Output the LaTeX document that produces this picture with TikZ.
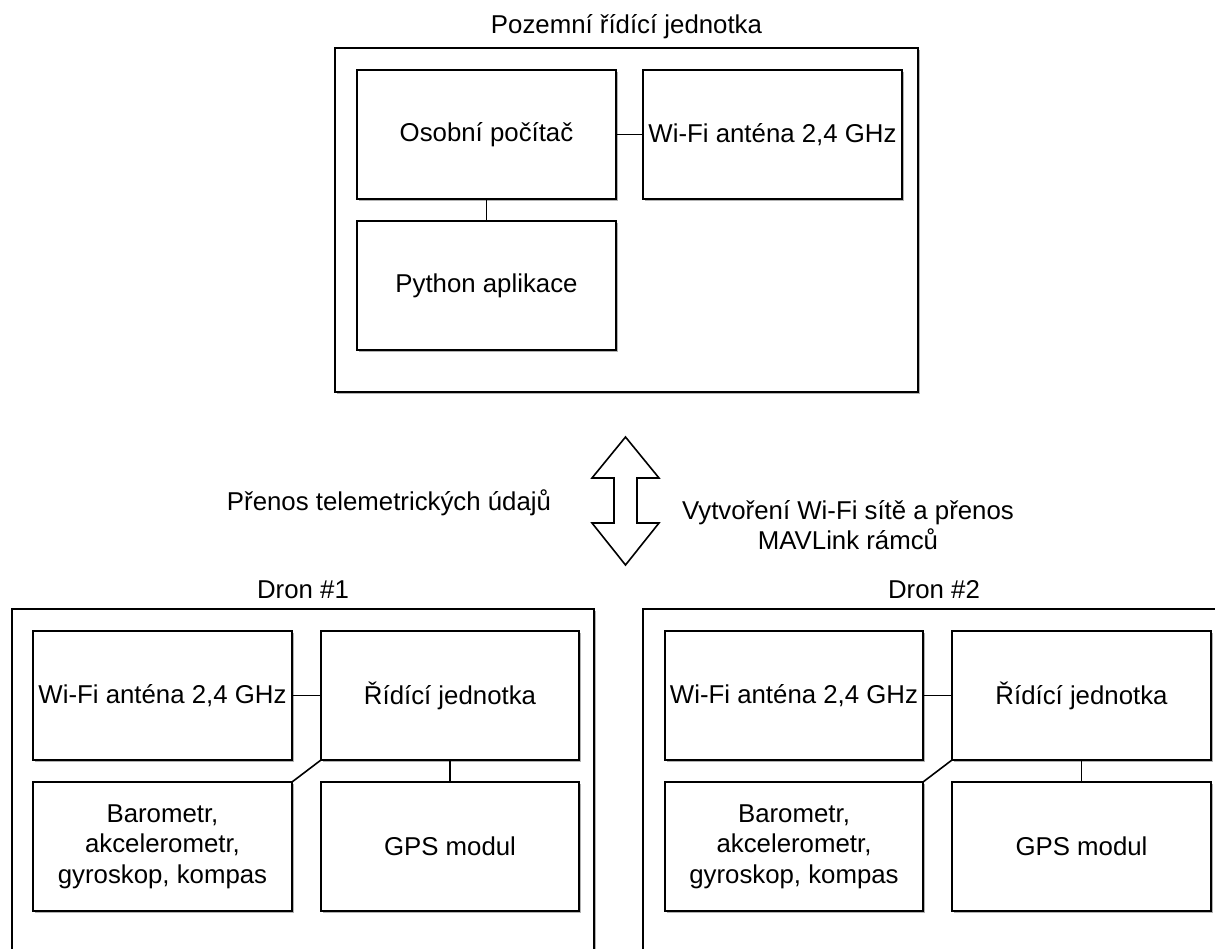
\documentclass[tikz,border=0pt]{standalone}
\usepackage{fontspec}
\setmainfont{Liberation Sans}
\usetikzlibrary{shadows}
\begin{document}
\begin{tikzpicture}[x=1pt,y=-1pt,
  every node/.style={font=\fontsize{25.8}{30.5}\selectfont, inner sep=0pt, outer sep=0pt},
  box/.style={draw, line width=1.6pt, fill=white, align=center,
    drop shadow={shadow xshift=1.6pt, shadow yshift=-1.6pt, opacity=0.3, fill=black}},
  inner/.style={box, minimum width=259pt, minimum height=129pt},
  link/.style={line width=1.6pt}]
\useasboundingbox (0,0) rectangle (1215,949);
\clip (0,0) rectangle (1215,949);
\fill[white] (0,0) rectangle (1215,949);

% ground unit
\node[box, minimum width=583pt, minimum height=344pt] (ground) at (626.5,220) {};
\node (tground) at (626.5,27) {Pozemní řídící jednotka};
\node[inner] (pc) at (486.5,134.5) {Osobní počítač};
\node[inner] (wifi) at (772.5,134.5) {Wi-Fi anténa 2,4 GHz};
\node[inner] (py) at (486.5,285.5) {Python aplikace};
\draw[link] (pc.east) -- (wifi.west);
\draw[link] (pc.south) -- (py.north);

% double arrow
\draw[line width=1.6pt, line join=miter] (625.5,437) -- (659,478) -- (637,478) -- (637,523) -- (659,523) -- (625.5,565) -- (592,523) -- (614,523) -- (614,478) -- (592,478) -- cycle;
\node (tele) at (389,503) {Přenos telemetrických údajů};
\node[align=center] (mav) at (848,525) {Vytvoření Wi-Fi sítě a přenos\\MAVLink rámců};

% drone 1
\node[box, minimum width=582pt, minimum height=381pt] (dron1) at (303,799.5) {};
\node (td1) at (303,590) {Dron \#1};
\node[inner] (w1) at (162.5,695.5) {Wi-Fi anténa 2,4 GHz};
\node[inner, minimum width=258pt] (r1) at (450,695.5) {Řídící jednotka};
\node[inner] (b1) at (162.5,846.5) {Barometr,\\akcelerometr,\\gyroskop, kompas};
\node[inner, minimum width=258pt] (g1) at (450,846.5) {GPS modul};
\draw[link] (w1.east) -- (r1.west);
\draw[link] (r1.south) -- (g1.north);
\draw[link] (r1.south west) -- (b1.north east);

% drone 2
\node[box, minimum width=582pt, minimum height=381pt] (dron2) at (934,799.5) {};
\node (td2) at (934,590) {Dron \#2};
\node[inner, minimum width=258pt] (w2) at (794,695.5) {Wi-Fi anténa 2,4 GHz};
\node[inner] (r2) at (1081.5,695.5) {Řídící jednotka};
\node[inner, minimum width=258pt] (b2) at (794,846.5) {Barometr,\\akcelerometr,\\gyroskop, kompas};
\node[inner] (g2) at (1081.5,846.5) {GPS modul};
\draw[link] (w2.east) -- (r2.west);
\draw[link] (r2.south) -- (g2.north);
\draw[link] (r2.south west) -- (b2.north east);
\end{tikzpicture}
\end{document}
